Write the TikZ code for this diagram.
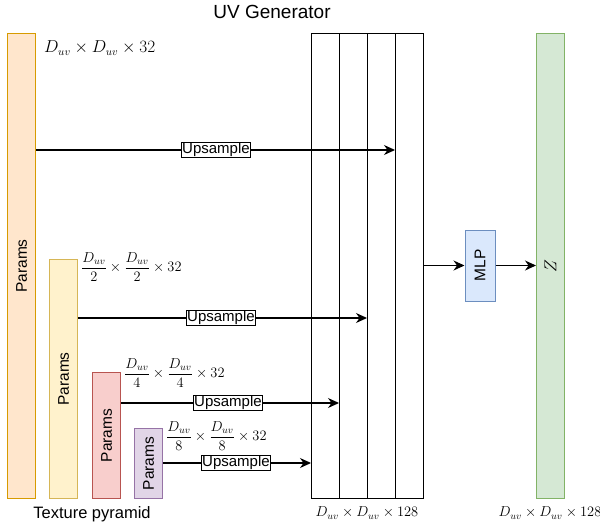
\documentclass[tikz,border=0pt]{standalone}
\usepackage{fontspec}
\setmainfont{Liberation Sans}
\usepackage{amsmath}
\usetikzlibrary{arrows.meta}
\definecolor{oFill}{HTML}{FFE6CC}\definecolor{oLine}{HTML}{D79B00}
\definecolor{yFill}{HTML}{FFF2CC}\definecolor{yLine}{HTML}{D6B656}
\definecolor{rFill}{HTML}{F8CECC}\definecolor{rLine}{HTML}{B85450}
\definecolor{pFill}{HTML}{E1D5E7}\definecolor{pLine}{HTML}{9673A6}
\definecolor{bFill}{HTML}{DAE8FC}\definecolor{bLine}{HTML}{6C8EBF}
\definecolor{gFill}{HTML}{D5E8D4}\definecolor{gLine}{HTML}{82B366}
\tikzset{
  bar/.style={draw, line width=1pt, minimum width=28pt, inner sep=0pt, anchor=north west},
  rotlabel/.style={font=\fontsize{15.5}{18}\selectfont},
  col/.style={draw, line width=1pt, minimum width=28pt, minimum height=465pt, inner sep=0pt, anchor=north west},
  upbox/.style={draw, fill=white, line width=1pt, inner sep=1pt, font=\fontsize{15}{17}\selectfont},
  conn/.style={line width=1.2pt, -{Stealth[length=11pt,width=10pt]}},
  mathlbl/.style={inner sep=0pt, anchor=west},
  fraclbl/.style={mathlbl, font=\fontsize{14.5}{17}\selectfont},
}
\begin{document}
\begin{tikzpicture}[x=1pt,y=-1pt]
\useasboundingbox (0,0) rectangle (600,525);
% title
\node[font=\fontsize{19}{22}\selectfont] (title) at (272,12) {UV Generator};
% pyramid bars
\node[bar, fill=oFill, draw=oLine, minimum height=465pt] (p1) at (7,33) {};
\node[rotate=90, rotlabel] at (p1.center) {Params};
\node[bar, fill=yFill, draw=yLine, minimum height=239pt] (p2) at (49,259) {};
\node[rotate=90, rotlabel] at (p2.center) {Params};
\node[bar, fill=rFill, draw=rLine, minimum height=126pt] (p3) at (92,372) {};
\node[rotate=90, rotlabel] at (p3.center) {Params};
\node[bar, fill=pFill, draw=pLine, minimum height=70pt] (p4) at (134,428) {};
\node[rotate=90, rotlabel] at (p4.center) {Params};
% labels
\node[mathlbl, font=\fontsize{16}{18}\selectfont] (l1) at (44,48) {$D_{uv}\times D_{uv}\times 32$};
\node[fraclbl] (l2) at (81,267) {$\dfrac{D_{uv}}{2}\times\dfrac{D_{uv}}{2}\times 32$};
\node[fraclbl] (l3) at (124,373) {$\dfrac{D_{uv}}{4}\times\dfrac{D_{uv}}{4}\times 32$};
\node[fraclbl] (l4) at (166,436) {$\dfrac{D_{uv}}{8}\times\dfrac{D_{uv}}{8}\times 32$};
\node[font=\fontsize{16.5}{19}\selectfont] (tp) at (92,514) {Texture pyramid};
% UV generator columns
\node[col] (c1) at (311,33) {};
\node[col] (c2) at (339,33) {};
\node[col] (c3) at (367,33) {};
\node[col] (c4) at (395,33) {};
\node[font=\fontsize{14}{16}\selectfont] (lc) at (367,513) {$D_{uv}\times D_{uv}\times 128$};
% MLP
\node[draw=bLine, fill=bFill, line width=1pt, minimum width=30pt, minimum height=71pt, inner sep=0pt] (mlp) at (480,265.5) {};
\node[rotate=90, rotlabel] at (mlp.center) {MLP};
% Z
\node[bar, fill=gFill, draw=gLine, minimum height=465pt] (z) at (536,33) {};
\node[rotate=90, font=\fontsize{16}{18}\selectfont] at (z.center) {$Z$};
\node[font=\fontsize{14}{16}\selectfont] (lz) at (550,513) {$D_{uv}\times D_{uv}\times 128$};
% connectors
\coordinate (e1) at (p1.east |- 0,150);
\coordinate (e2) at (p2.east |- 0,318);
\coordinate (e3) at (p3.east |- 0,403);
\coordinate (e4) at (p4.east |- 0,463);
\draw[conn] (e1) -- (c4.west |- e1);
\node[upbox] (u1) at (216,150) {Upsample};
\draw[conn] (e2) -- (c3.west |- e2);
\node[upbox] (u2) at (221,318) {Upsample};
\draw[conn] (e3) -- (c2.west |- e3);
\node[upbox] (u3) at (228,403) {Upsample};
\draw[conn] (e4) -- (c1.west |- e4);
\node[upbox] (u4) at (236,463) {Upsample};
\draw[conn] (c4.east |- mlp.west) -- (mlp.west);
\draw[conn] (mlp.east) -- (z.west |- mlp.east);
\end{tikzpicture}
\end{document}
